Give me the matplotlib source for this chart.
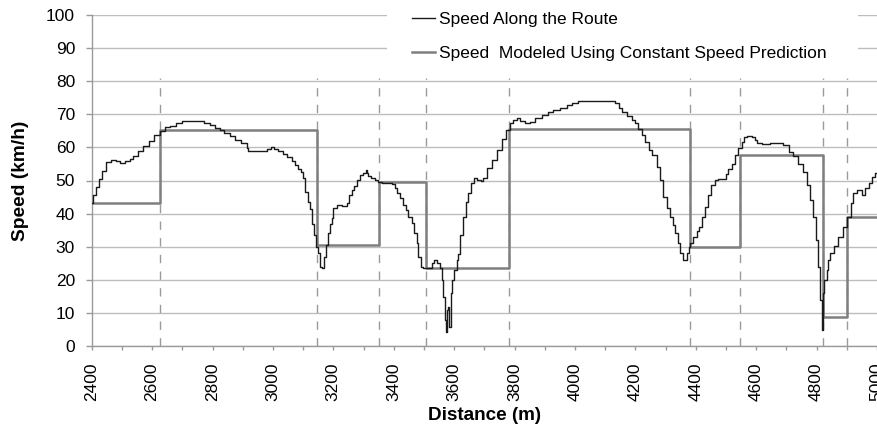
import matplotlib
matplotlib.use("Agg")
import matplotlib.pyplot as plt
from matplotlib.patches import Rectangle

plt.rcParams['font.family'] = ['Liberation Sans', 'DejaVu Sans']

# Measured speed along the route (step profile): distance (m), speed (km/h)
route_dist = [2400, 2403, 2415, 2423, 2434, 2448, 2465, 2480, 2493, 2510, 2526, 2537, 2553, 2570,
              2590, 2605, 2625, 2642, 2660, 2680, 2700, 2772, 2792, 2808, 2825, 2838, 2858, 2875,
              2893, 2913, 2919, 2979, 2992, 3005, 3018, 3034, 3046, 3062, 3073, 3084, 3092, 3099,
              3106, 3115, 3123, 3131, 3137, 3142, 3150, 3156, 3164, 3169, 3175, 3181, 3189, 3195,
              3200, 3211, 3228, 3244, 3253, 3261, 3270, 3277, 3288, 3299, 3307, 3312, 3316, 3325,
              3338, 3349, 3360, 3393, 3404, 3412, 3421, 3430, 3441, 3448, 3460, 3467, 3476, 3481,
              3489, 3496, 3515, 3526, 3533, 3544, 3553, 3559, 3564, 3570, 3573, 3577, 3581, 3584,
              3589, 3594, 3601, 3609, 3614, 3620, 3628, 3638, 3647, 3656, 3666, 3677, 3688, 3697,
              3708, 3725, 3741, 3758, 3772, 3785, 3796, 3809, 3818, 3835, 3851, 3868, 3890, 3912,
              3928, 3951, 3973, 3989, 4011, 4133, 4145, 4155, 4172, 4188, 4199, 4210, 4221, 4232,
              4244, 4256, 4271, 4280, 4293, 4304, 4315, 4326, 4331, 4340, 4348, 4359, 4370, 4376,
              4381, 4392, 4403, 4412, 4420, 4431, 4442, 4451, 4464, 4475, 4500, 4508, 4519, 4530,
              4541, 4552, 4560, 4570, 4585, 4595, 4602, 4618, 4646, 4668, 4690, 4707, 4723, 4740,
              4754, 4768, 4779, 4789, 4798, 4806, 4812, 4817, 4821, 4825, 4834, 4839, 4845, 4858,
              4872, 4888, 4900, 4913, 4922, 4933, 4950, 4961, 4972, 4983, 4994, 5000]
route_speed = [43.2, 45.6, 48.1, 50.5, 53.0, 55.5, 56.2, 55.8, 55.3, 55.8, 56.4, 57.4, 58.9, 60.5,
               62.0, 63.7, 65.0, 66.1, 66.5, 67.5, 68.1, 67.5, 66.9, 65.9, 65.3, 64.5, 63.4, 62.3,
               61.2, 59.9, 58.9, 59.4, 60.0, 59.6, 59.0, 58.0, 57.0, 55.8, 54.8, 53.5, 52.5, 50.7,
               46.6, 43.6, 41.3, 37.0, 33.5, 30.0, 28.0, 24.0, 23.5, 27.0, 30.6, 34.0, 37.0, 38.6,
               41.6, 42.6, 42.3, 43.3, 45.6, 47.1, 48.3, 50.2, 51.7, 52.2, 53.2, 52.2, 51.5, 50.7,
               50.2, 49.6, 49.1, 48.8, 47.6, 46.1, 44.6, 42.6, 41.1, 39.1, 37.1, 34.0, 31.0, 27.0,
               24.0, 23.5, 23.5, 25.0, 26.0, 25.0, 23.5, 19.9, 14.9, 7.9, 4.3, 10.9, 11.9, 5.8,
               15.9, 19.9, 22.9, 25.9, 27.9, 33.5, 39.0, 43.6, 46.1, 49.2, 50.9, 50.3, 49.8, 50.8,
               53.7, 56.2, 59.2, 62.4, 65.3, 67.3, 68.3, 68.8, 68.0, 67.3, 67.8, 68.8, 69.8, 70.8,
               71.4, 72.0, 72.7, 73.5, 74.0, 73.3, 72.0, 70.8, 69.5, 68.3, 67.3, 65.5, 63.7, 61.7,
               59.2, 57.7, 54.2, 50.2, 45.1, 41.6, 39.1, 36.6, 34.0, 31.0, 28.0, 26.0, 28.0, 30.0,
               31.0, 33.0, 34.6, 36.1, 39.1, 42.1, 45.6, 48.7, 50.2, 50.5, 52.0, 53.6, 55.1, 57.7,
               59.7, 61.7, 63.0, 63.5, 63.0, 62.2, 61.2, 61.0, 61.2, 61.2, 60.8, 58.5, 57.4, 55.0,
               52.5, 48.6, 44.0, 39.0, 32.0, 24.0, 13.9, 4.8, 15.9, 20.0, 23.0, 26.0, 28.0, 30.2,
               33.0, 36.0, 39.0, 43.1, 46.1, 47.1, 45.6, 47.6, 49.2, 51.2, 52.2, 52.2]

# Constant speed prediction segments
seg_start = [2400, 2626, 3145, 3352, 3506, 3782, 4382, 4546, 4820, 4902]
seg_speed = [43.2, 65.2, 30.5, 49.5, 23.7, 65.6, 30.0, 57.6, 8.9, 39.0]
route_end = 5000

# Segment boundaries (dashed lines)
boundaries = seg_start[1:]

labels = ["Speed Along the Route", "Speed  Modeled Using Constant Speed Prediction"]

fig = plt.figure(figsize=(8.77, 4.34), dpi=100)
ax = fig.add_axes([91.7 / 877, 1 - 346 / 434, 1 - 91.7 / 877, (346 - 15) / 434])

const_x = seg_start + [route_end]
const_y = seg_speed + [seg_speed[-1]]

ax.vlines(boundaries, 0, 81, colors='#9a9a9a', linewidth=1.0, linestyles=(0, (6, 6)), zorder=1)
l2, = ax.plot(const_x, const_y, drawstyle='steps-post', color='#7f7f7f', linewidth=1.8,
              zorder=2, label=labels[1])
l1, = ax.plot(route_dist, route_speed, drawstyle='steps-post', color='#1a1a1a', linewidth=1.0,
              zorder=3, label=labels[0])

ax.set_xlim(2400, 5000)
ax.set_ylim(0, 100)
ax.set_yticks(range(0, 101, 10))
ax.set_xticks(range(2400, 5001, 200))
ax.set_xticks(range(2500, 5000, 200), minor=True)
ax.tick_params(axis='x', which='both', direction='out', length=3, width=1, color='#9a9a9a',
               labelrotation=90, labelsize=12.5, pad=9)
ax.tick_params(axis='y', direction='out', length=4, width=1, color='#9a9a9a', labelsize=12.5, pad=8)

ax.grid(axis='y', color='#bdbdbd', linewidth=1.0)
ax.set_axisbelow(True)
for s in ['top', 'right']:
    ax.spines[s].set_visible(False)
for s in ['left', 'bottom']:
    ax.spines[s].set_color('#9a9a9a')
    ax.spines[s].set_linewidth(1.0)

ax.set_ylabel('Speed (km/h)', fontsize=13.8, fontweight='bold')
ax.set_xlabel('Distance (m)', fontsize=13.6, fontweight='bold')
ax.yaxis.set_label_coords((29 - 91.7) / 785.3, 0.5)
ax.xaxis.set_label_coords(0.5, (346 - 407) / 331)

# white legend area covering gridlines
rect = Rectangle((387 / 877, 1 - 66 / 434), (858 - 387) / 877, 66 / 434, transform=fig.transFigure,
                 facecolor='white', edgecolor='none', zorder=0.8, clip_on=False)
ax.add_patch(rect)

fig.legend(handles=[l1, l2], labels=labels, loc='upper left',
           bbox_to_anchor=(405 / 877, 1 - 4.5 / 434), frameon=False, fontsize=12.5,
           handlelength=1.3, handletextpad=0.25, labelspacing=1.13, borderaxespad=0)

fig.savefig('out.png', dpi=100)
